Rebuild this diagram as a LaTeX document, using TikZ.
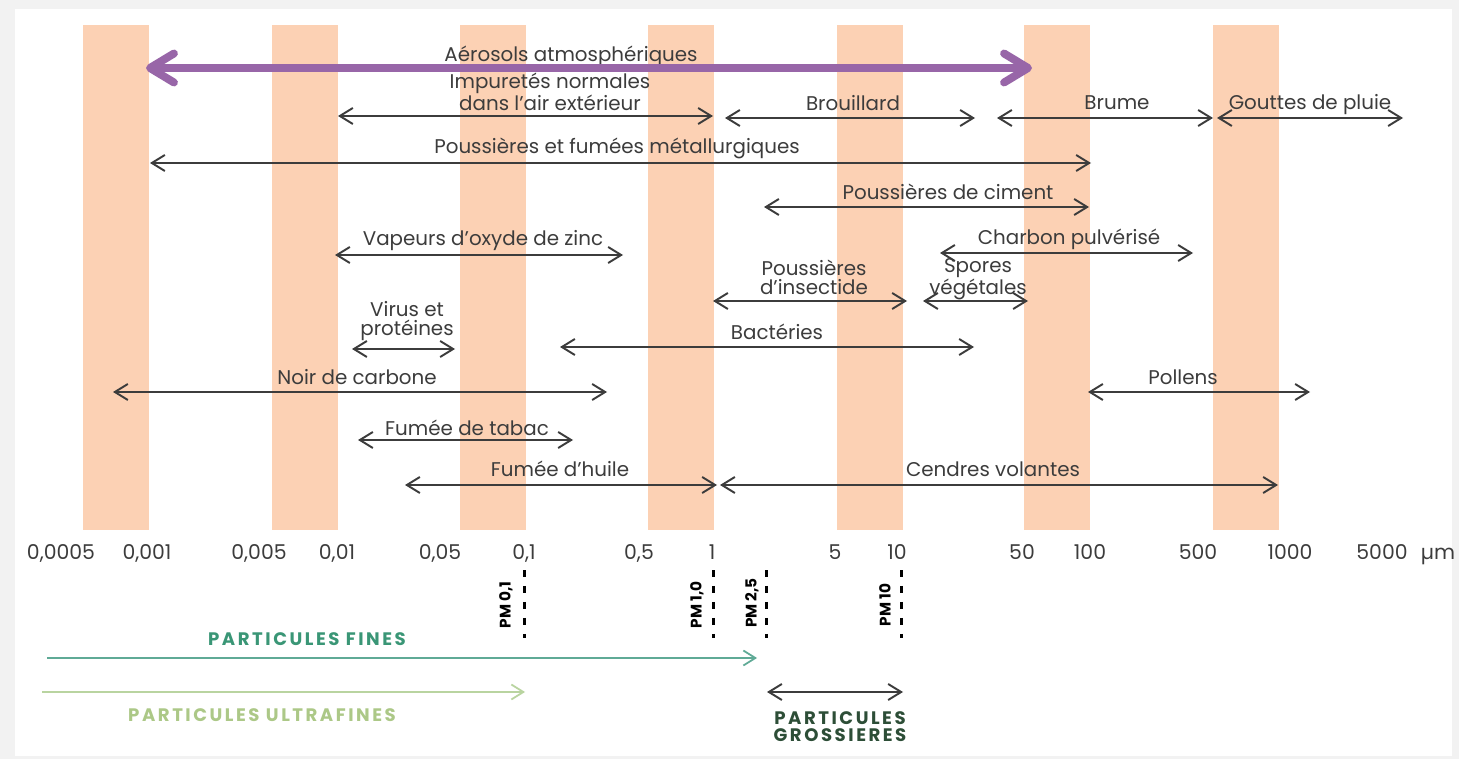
\documentclass[tikz,border=0pt]{standalone}
\usepackage{fontspec}
\setmainfont{Poppins}
\usetikzlibrary{arrows.meta}
\definecolor{bandpeach}{RGB}{252,209,180}
\definecolor{aeropurple}{RGB}{152,102,168}
\definecolor{textgray}{RGB}{60,60,60}
\definecolor{finegreen}{RGB}{58,150,118}
\definecolor{fineline}{RGB}{95,170,150}
\definecolor{ultragreen}{RGB}{172,200,135}
\definecolor{ultraline}{RGB}{185,212,160}
\definecolor{coarsegreen}{RGB}{45,78,55}
\begin{document}
\begin{tikzpicture}[x=0.02cm, y=-0.02cm,
  sizeband/.style={fill=bandpeach},
  lbl/.style={anchor=base, inner sep=0pt, text=textgray, font=\fontsize{11.3}{11.3}\selectfont, align=center},
  ticklbl/.style={lbl, font=\fontsize{11.6}{12}\selectfont},
  pmlbl/.style={rotate=90, inner sep=0pt, text=black, font=\fontsize{8.7}{9}\selectfont\bfseries},
  classlbl/.style={anchor=base, inner sep=0pt, align=center, font=\fontsize{10.3}{9.2}\selectfont\bfseries\addfontfeatures{LetterSpace=14}},
  sizerange/.style={draw=textgray, line width=1.1pt, {Straight Barb[length=2.6mm,width=3.2mm]}-{Straight Barb[length=2.6mm,width=3.2mm]}},
  pmline/.style={draw=black, line width=1.7pt, dash pattern=on 1.4mm off 1.8mm},
  aero/.style={draw=aeropurple, line width=4.5pt, line cap=round, {Straight Barb[length=4.8mm,width=5.8mm,round]}-{Straight Barb[length=4.8mm,width=5.8mm,round]}}
]
% frame and bounding box
\fill[gray!10] (0,0) rectangle (1459,759);
\fill[white] (15,9) rectangle (1452,756);
\useasboundingbox (0,0) rectangle (1459,759);

% size bands
\fill[sizeband] (83,25) rectangle (149,530);
\fill[sizeband] (272,25) rectangle (338,530);
\fill[sizeband] (460,25) rectangle (526,530);
\fill[sizeband] (648,25) rectangle (714,530);
\fill[sizeband] (837,25) rectangle (903,530);
\fill[sizeband] (1024,25) rectangle (1090,530);
\fill[sizeband] (1213,25) rectangle (1279,530);

% end points of the ranges
\coordinate (aeroL) at (146,68);
\coordinate (aeroR) at (1032,68);
\coordinate (impL) at (338,116);
\coordinate (impR) at (713,116);
\coordinate (brouL) at (725,118);
\coordinate (brouR) at (975,118);
\coordinate (brumL) at (997,118);
\coordinate (brumR) at (1213,118);
\coordinate (gouttL) at (1217,118);
\coordinate (gouttR) at (1403,118);
\coordinate (metL) at (150,163);
\coordinate (metR) at (1091,163);
\coordinate (cimL) at (764,207);
\coordinate (cimR) at (1089,207);
\coordinate (zincL) at (335,255);
\coordinate (zincR) at (623,255);
\coordinate (charbL) at (940,253);
\coordinate (charbR) at (1193,253);
\coordinate (insL) at (713,301);
\coordinate (insR) at (907,301);
\coordinate (sporL) at (923,301);
\coordinate (sporR) at (1028,301);
\coordinate (virL) at (352,349);
\coordinate (virR) at (455,349);
\coordinate (bactL) at (560,347);
\coordinate (bactR) at (974,347);
\coordinate (noirL) at (113,392);
\coordinate (noirR) at (607,392);
\coordinate (polL) at (1088,392);
\coordinate (polR) at (1310,392);
\coordinate (tabL) at (358,440);
\coordinate (tabR) at (573,440);
\coordinate (huilL) at (405,485);
\coordinate (huilR) at (717,485);
\coordinate (cendL) at (720,485);
\coordinate (cendR) at (1278,485);

% labels (two-line ones sit on the baseline of their last line)
\node[lbl] (aeroT) at (571,62) {Aérosols atmosphériques};
\node[lbl] (impT) at (550,111) {Impuretés normales\\dans l'air extérieur};
\node[lbl] (brouT) at (853,111) {Brouillard};
\node[lbl] (brumT) at (1117,110) {Brume};
\node[lbl] (gouttT) at (1310,110) {Gouttes de pluie};
\node[lbl] (metT) at (617,154) {Poussières et fumées métallurgiques};
\node[lbl] (cimT) at (948,200) {Poussières de ciment};
\node[lbl] (zincT) at (483,246) {Vapeurs d'oxyde de zinc};
\node[lbl] (charbT) at (1069,245) {Charbon pulvérisé};
\node[lbl] (insT) at (814,295) {Poussières\\d'insectide};
\node[lbl] (sporT) at (978,295) {Spores\\végétales};
\node[lbl] (virT) at (407,336) {Virus et\\protéines};
\node[lbl] (bactT) at (777,340) {Bactéries};
\node[lbl] (noirT) at (357,385) {Noir de carbone};
\node[lbl] (polT) at (1183,385) {Pollens};
\node[lbl] (tabT) at (467,436) {Fumée de tabac};
\node[lbl] (huilT) at (560,477) {Fumée d'huile};
\node[lbl] (cendT) at (993,477) {Cendres volantes};

% ranges
\draw[aero] (aeroL) -- (aeroR);
\draw[sizerange] (impL) -- (impR);
\draw[sizerange] (brouL) -- (brouR);
\draw[sizerange] (brumL) -- (brumR);
\draw[sizerange] (gouttL) -- (gouttR);
\draw[sizerange] (metL) -- (metR);
\draw[sizerange] (cimL) -- (cimR);
\draw[sizerange] (zincL) -- (zincR);
\draw[sizerange] (charbL) -- (charbR);
\draw[sizerange] (insL) -- (insR);
\draw[sizerange] (sporL) -- (sporR);
\draw[sizerange] (virL) -- (virR);
\draw[sizerange] (bactL) -- (bactR);
\draw[sizerange] (noirL) -- (noirR);
\draw[sizerange] (polL) -- (polR);
\draw[sizerange] (tabL) -- (tabR);
\draw[sizerange] (huilL) -- (huilR);
\draw[sizerange] (cendL) -- (cendR);

% scale
\node[ticklbl] (t1) at (61,559) {0,0005};
\node[ticklbl] (t2) at (147,559) {0,001};
\node[ticklbl] (t3) at (259,559) {0,005};
\node[ticklbl] (t4) at (337,559) {0,01};
\node[ticklbl] (t5) at (440,559) {0,05};
\node[ticklbl] (t6) at (524,559) {0,1};
\node[ticklbl] (t7) at (639,559) {0,5};
\node[ticklbl] (t8) at (712,559) {1};
\node[ticklbl] (t9) at (835,559) {5};
\node[ticklbl] (t10) at (897,559) {10};
\node[ticklbl] (t11) at (1022,559) {50};
\node[ticklbl] (t12) at (1090,559) {100};
\node[ticklbl] (t13) at (1198,559) {500};
\node[ticklbl] (t14) at (1290,559) {1000};
\node[ticklbl] (t15) at (1382,559) {5000};
\node[ticklbl] (unit) at (1438,559) {µm};

% PM limits
\coordinate (pm01T) at (524,570);
\coordinate (pm01B) at (524,638);
\coordinate (pm1T) at (713,570);
\coordinate (pm1B) at (713,638);
\coordinate (pm25T) at (766,570);
\coordinate (pm25B) at (766,638);
\coordinate (pm10T) at (901,570);
\coordinate (pm10B) at (901,638);
\draw[pmline] (pm01T) -- (pm01B);
\draw[pmline] (pm1T) -- (pm1B);
\draw[pmline] (pm25T) -- (pm25B);
\draw[pmline] (pm10T) -- (pm10B);
\node[pmlbl] (pm01) at (506,605) {PM 0,1};
\node[pmlbl] (pm1) at (697,605) {PM 1,0};
\node[pmlbl] (pm25) at (752,603) {PM 2,5};
\node[pmlbl] (pm10) at (885,605) {PM 10};

% particle classes
\coordinate (fineL) at (47,658);
\coordinate (fineR) at (757,658);
\coordinate (ultraL) at (42,692);
\coordinate (ultraR) at (525,692);
\coordinate (coarseL) at (767,692);
\coordinate (coarseR) at (903,692);
\draw[draw=fineline, line width=1pt, -{Straight Barb[length=2.4mm,width=3mm]}] (fineL) -- (fineR);
\draw[draw=ultraline, line width=1pt, -{Straight Barb[length=2.4mm,width=3mm]}] (ultraL) -- (ultraR);
\draw[sizerange] (coarseL) -- (coarseR);
\node[classlbl, text=finegreen] (fineT) at (307,645) {PARTICULES FINES};
\node[classlbl, text=ultragreen] (ultraT) at (262,721) {PARTICULES ULTRAFINES};
\node[classlbl, text=coarsegreen] (coarseT) at (840,741) {PARTICULES\\GROSSIERES};
\end{tikzpicture}
\end{document}
